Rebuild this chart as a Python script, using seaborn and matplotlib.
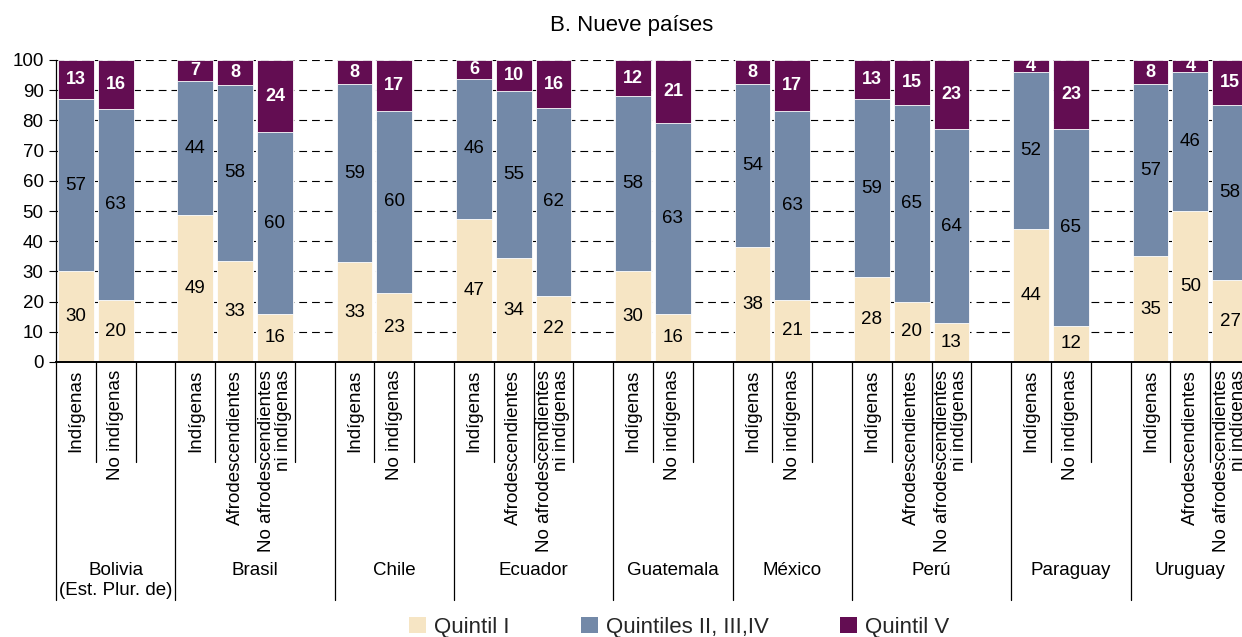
import matplotlib
matplotlib.use("Agg")
import matplotlib.pyplot as plt
import matplotlib.transforms as mtransforms
from matplotlib.patches import Patch
import seaborn as sns
import pandas as pd

# ---------------- data ----------------
countries = ["Bolivia\n(Est. Plur. de)", "Brasil", "Chile", "Ecuador", "Guatemala",
             "México", "Perú", "Paraguay", "Uruguay"]
groups = [
    ["Indígenas", "No indígenas"],
    ["Indígenas", "Afrodescendientes", "No afrodescendientes\nni indígenas"],
    ["Indígenas", "No indígenas"],
    ["Indígenas", "Afrodescendientes", "No afrodescendientes\nni indígenas"],
    ["Indígenas", "No indígenas"],
    ["Indígenas", "No indígenas"],
    ["Indígenas", "Afrodescendientes", "No afrodescendientes\nni indígenas"],
    ["Indígenas", "No indígenas"],
    ["Indígenas", "Afrodescendientes", "No afrodescendientes\nni indígenas"],
]
quintil_1 = [30, 20.4, 48.6, 33.4, 16, 33, 23, 47.4, 34.4, 22, 30, 16,
             38, 20.6, 28, 20, 13, 44, 12, 35, 50, 27]
quintil_2_4 = [57, 63.4, 44.4, 58.4, 60, 59, 60, 46.4, 55.4, 62, 58, 63,
               54, 62.6, 59, 65, 64, 52, 65, 57, 46, 58]
quintil_5 = [13, 16.2, 7.0, 8.2, 24, 8, 17, 6.2, 10.2, 16, 12, 21,
             8, 16.8, 13, 15, 23, 4, 23, 8, 4, 15]
series_names = ["Quintil I", "Quintiles II, III,IV", "Quintil V"]
y_ticks = list(range(0, 101, 10))
title = "B. Nueve países"

# ---------------- style ----------------
col_q1 = "#F6E5C4"
col_q2 = "#7389A8"
col_q5 = "#630D52"

sns.set_theme(style="white")
plt.rcParams["font.family"] = ["Liberation Sans", "DejaVu Sans"]

# ---------------- layout (slot positions) ----------------
positions, labels, group_starts, group_centers = [], [], [], []
slot = 0
for gi, grp in enumerate(groups):
    start = slot
    group_starts.append(start - 0.5)
    for lab in grp:
        positions.append(slot)
        labels.append(lab)
        slot += 1
    if gi < len(groups) - 1:
        slot += 1  # empty slot after each country
    group_centers.append((start - 0.5 + slot - 0.5) / 2)
group_starts.append(slot - 0.5)

df = pd.DataFrame({"pos": positions, "label": labels,
                   "q1": quintil_1, "q2": quintil_2_4, "q5": quintil_5})
df["cum2"] = df["q1"] + df["q2"]
df["total"] = df["cum2"] + df["q5"]

fig = plt.figure(figsize=(12.42, 6.37), dpi=100)
ax_left = 56 / 1242
ax_bottom = (637 - 362) / 637
ax_height = (362 - 60) / 637
ax = fig.add_axes([ax_left, ax_bottom, 1 - ax_left, ax_height])

bar_kw = dict(native_scale=True, width=0.9, saturation=1, edgecolor="white",
              linewidth=0.6, ax=ax, errorbar=None)
sns.barplot(data=df, x="pos", y="total", color=col_q5, **bar_kw)
sns.barplot(data=df, x="pos", y="cum2", color=col_q2, **bar_kw)
sns.barplot(data=df, x="pos", y="q1", color=col_q1, **bar_kw)

slot_px = 39.8
ax.set_xlim(-0.5, -0.5 + (1242 - 56) / slot_px)
ax.set_ylim(0, 100)
ax.set_xticks([])
ax.set_yticks(y_ticks)
ax.set_xlabel("")
ax.set_ylabel("")
ax.tick_params(axis="y", which="major", left=True, length=5, width=0.8,
               color="black", labelsize=13.5, pad=4, labelcolor="black")
ax.yaxis.grid(True, linestyle=(0, (7, 4.5)), color="black", linewidth=0.8)
ax.xaxis.grid(False)
ax.set_axisbelow(True)
for s in ["top", "right"]:
    ax.spines[s].set_visible(False)
ax.spines["left"].set_color("black")
ax.spines["left"].set_linewidth(0.9)
ax.spines["bottom"].set_color("black")
ax.spines["bottom"].set_linewidth(1.4)
ax.spines["bottom"].set_zorder(5)

# value labels
for _, r in df.iterrows():
    ax.text(r.pos, r.q1 / 2, f"{r.q1:.0f}", ha="center", va="center",
            fontsize=13.5, color="black")
    ax.text(r.pos, r.q1 + r.q2 / 2, f"{r.q2:.0f}", ha="center", va="center",
            fontsize=13.5, color="black")
    ax.text(r.pos, r.cum2 + r.q5 / 2, f"{r.q5:.0f}", ha="center", va="center",
            fontsize=13, color="white", fontweight="bold")

trans = mtransforms.blended_transform_factory(ax.transData, ax.transAxes)
axes_h_px = 302.0
short_y = (362 - 462) / axes_h_px
long_y = (362 - 600) / axes_h_px

# category labels and short ticks
for _, r in df.iterrows():
    ax.text(r.pos, -8 / axes_h_px, r.label, transform=trans, rotation=90,
            ha="center", va="top", multialignment="right", fontsize=13.5,
            color="black", linespacing=1.0)
    ax.plot([r.pos + 0.5, r.pos + 0.5], [0, short_y], transform=trans,
            color="black", lw=0.9, clip_on=False)

# country separators
for xs in group_starts:
    ax.plot([xs, xs], [0, long_y], transform=trans, color="black", lw=0.9,
            clip_on=False)

# country labels
for c, xc in zip(countries, group_centers):
    ax.text(xc, (362 - 562) / axes_h_px, c, transform=trans, ha="center",
            va="top", multialignment="center", fontsize=13.5, color="black",
            linespacing=1.2)

fig.text(632 / 1242, 1 - 25 / 637, title, ha="center", va="center",
         fontsize=16, color="black")

handles = [Patch(facecolor=col_q1, edgecolor="none"),
           Patch(facecolor=col_q2, edgecolor="none"),
           Patch(facecolor=col_q5, edgecolor="none")]
fig.legend(handles, series_names, loc="center", bbox_to_anchor=(679 / 1242, 1 - 627 / 637),
           ncol=3, frameon=False, fontsize=16, handlelength=0.77,
           handleheight=0.72, handletextpad=0.36, columnspacing=3.2,
           borderaxespad=0, borderpad=0)

fig.savefig("out.png", dpi=100)
